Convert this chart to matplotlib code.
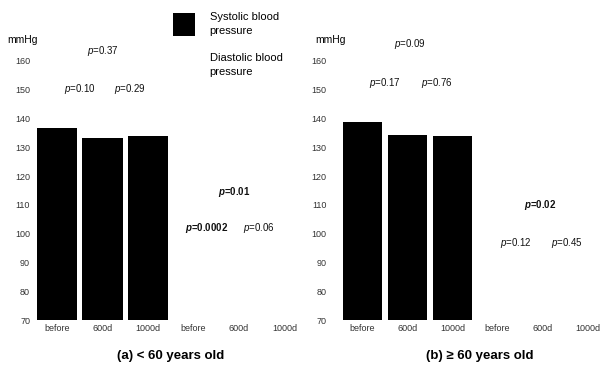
import matplotlib
matplotlib.use("Agg")
import matplotlib.pyplot as plt

plt.rcParams['font.family'] = ['Liberation Sans', 'DejaVu Sans']
plt.rcParams['mathtext.fontset'] = 'custom'
plt.rcParams['mathtext.rm'] = 'Liberation Sans'
plt.rcParams['mathtext.it'] = 'Liberation Sans:italic'
plt.rcParams['mathtext.bf'] = 'Liberation Sans:bold'
plt.rcParams['mathtext.bfit'] = 'Liberation Sans:italic:bold'

# data
cats = ["before", "600d", "1000d", "before", "600d", "1000d"]
sys_young = [136.7, 133.2, 133.9]
dia_young = [84.0, 80.0, 80.5]      # drawn white in the source, not readable
sys_old = [138.8, 134.3, 133.9]
dia_old = [80.0, 78.0, 78.5]
yticks = [70, 80, 90, 100, 110, 120, 130, 140, 150, 160]

# p-value labels: (text, x, y, bold)
p_young = [("0.37", 1.0, 163.5, False), ("0.10", 0.5, 150.3, False),
           ("0.29", 1.6, 150.3, False), ("0.01", 3.9, 114.5, True),
           ("0.0002", 3.3, 102.0, True), ("0.06", 4.45, 102.0, False)]
p_old = [("0.09", 1.05, 165.9, False), ("0.17", 0.5, 152.3, False),
         ("0.76", 1.65, 152.3, False), ("0.02", 3.95, 110.0, True),
         ("0.12", 3.4, 96.8, False), ("0.45", 4.55, 96.8, False)]

W, H = 602, 380
fig = plt.figure(figsize=(W / 100, H / 100), dpi=100)

def px(x0, y0, w, h):
    return [x0 / W, 1 - (y0 + h) / H, w / W, h / H]

def panel(rect, sysv, diav, pvals, pad):
    ax = fig.add_axes(rect)
    x = list(range(6))
    ax.bar(x[:3], [v - 70 for v in sysv], bottom=70, width=0.88, color="black", label="Systolic blood\npressure")
    ax.bar(x[3:], [v - 70 for v in diav], bottom=70, width=0.88, color="white", label="Diastolic blood\npressure")
    ax.set_xlim(-0.5, 5.5)
    ax.set_ylim(70, 170)
    ax.set_yticks(yticks)
    ax.set_xticks(x)
    ax.set_xticklabels(cats)
    ax.tick_params(axis="both", length=0, labelsize=6.5, colors="#333333")
    ax.tick_params(axis="y", pad=pad)
    ax.tick_params(axis="x", pad=3)
    for s in ax.spines.values():
        s.set_visible(False)
    for t, xx, yy, b in pvals:
        if b:
            s = r"$\mathbfit{p}$=" + t
        else:
            s = r"$\mathit{p}$=" + t
        ax.text(xx, yy, s, ha="center", va="center", fontsize=7,
                fontweight="bold" if b else "normal", color="#111111")
    return ax

axL = panel(px(34.25, 32.2, 273, 287.8), sys_young, dia_young, p_young, 3)
axR = panel(px(340, 32.2, 270, 287.8), sys_old, dia_old, p_old, 9.5)

fig.text(7 / W, 1 - 40 / H, "mmHg", fontsize=7.5, va="center", ha="left")
fig.text(315 / W, 1 - 40 / H, "mmHg", fontsize=7.5, va="center", ha="left")

h, l = axL.get_legend_handles_labels()
leg = fig.legend(h, l, loc="upper left", bbox_to_anchor=(173 / W, 1 - 12 / H),
                 frameon=False, fontsize=8, handlelength=2.0, handleheight=2.7,
                 handletextpad=1.3, labelspacing=1.6, borderpad=0, borderaxespad=0)
for t in leg.get_texts():
    t.set_linespacing(1.45)

fig.text(171 / W, 1 - 356 / H, "(a) < 60 years old", fontsize=9.5, fontweight="bold",
         ha="center", va="center")
fig.text(480 / W, 1 - 356 / H, "(b) \u2265 60 years old", fontsize=9.5, fontweight="bold",
         ha="center", va="center")

fig.savefig("out.png", dpi=100)
